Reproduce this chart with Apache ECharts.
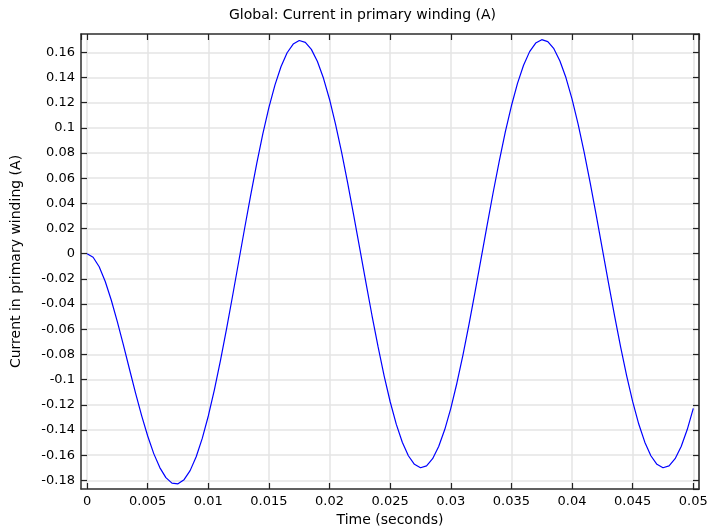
<!DOCTYPE html>
<html>
<head>
<meta charset="utf-8">
<script src="https://cdn.jsdelivr.net/npm/echarts@6/dist/echarts.min.js"></script>
<style>
  html, body { margin: 0; padding: 0; background: #fff; }
  #chart { width: 710px; height: 529px; }
</style>
</head>
<body>
<div id="chart"></div>
<script>
// time samples (s)
const times = [
  0, 0.0005, 0.001, 0.0015, 0.002, 0.0025, 0.003, 0.0035, 0.004, 0.0045,
  0.005, 0.0055, 0.006, 0.0065, 0.007, 0.0075, 0.008, 0.0085, 0.009, 0.0095,
  0.01, 0.0105, 0.011, 0.0115, 0.012, 0.0125, 0.013, 0.0135, 0.014, 0.0145,
  0.015, 0.0155, 0.016, 0.0165, 0.017, 0.0175, 0.018, 0.0185, 0.019, 0.0195,
  0.02, 0.0205, 0.021, 0.0215, 0.022, 0.0225, 0.023, 0.0235, 0.024, 0.0245,
  0.025, 0.0255, 0.026, 0.0265, 0.027, 0.0275, 0.028, 0.0285, 0.029, 0.0295,
  0.03, 0.0305, 0.031, 0.0315, 0.032, 0.0325, 0.033, 0.0335, 0.034, 0.0345,
  0.035, 0.0355, 0.036, 0.0365, 0.037, 0.0375, 0.038, 0.0385, 0.039, 0.0395,
  0.04, 0.0405, 0.041, 0.0415, 0.042, 0.0425, 0.043, 0.0435, 0.044, 0.0445,
  0.045, 0.0455, 0.046, 0.0465, 0.047, 0.0475, 0.048, 0.0485, 0.049, 0.0495,
  0.05
];

// current in primary winding (A)
const current = [
  0.0000, -0.0028, -0.0104, -0.0221, -0.0370, -0.0542, -0.0727, -0.0918, -0.1107, -0.1286,
  -0.1448, -0.1588, -0.1699, -0.1779, -0.1822, -0.1828, -0.1795, -0.1723, -0.1613, -0.1467,
  -0.1289, -0.1081, -0.0850, -0.0599, -0.0336, -0.0066, 0.0204, 0.0468, 0.0720, 0.0953,
  0.1162, 0.1341, 0.1487, 0.1596, 0.1665, 0.1693, 0.1679, 0.1623, 0.1527, 0.1393,
  0.1225, 0.1026, 0.0803, 0.0559, 0.0301, 0.0036, -0.0230, -0.0491, -0.0739, -0.0970,
  -0.1176, -0.1354, -0.1498, -0.1605, -0.1673, -0.1700, -0.1685, -0.1628, -0.1531, -0.1397,
  -0.1228, -0.1029, -0.0805, -0.0561, -0.0303, -0.0037, 0.0229, 0.0490, 0.0738, 0.0969,
  0.1175, 0.1353, 0.1497, 0.1605, 0.1673, 0.1700, 0.1685, 0.1628, 0.1531, 0.1397,
  0.1228, 0.1029, 0.0805, 0.0561, 0.0303, 0.0037, -0.0229, -0.0490, -0.0738, -0.0969,
  -0.1175, -0.1353, -0.1497, -0.1605, -0.1673, -0.1700, -0.1685, -0.1628, -0.1531, -0.1397,
  -0.1228
];

// axis extents
const xRange = [-0.0005, 0.05047];
const yRange = [-0.1869, 0.1745];

const chart = echarts.init(document.getElementById('chart'));

const seriesData = times.map(function (t, i) {
    return [t, current[i]];
});

const fontFamily = 'DejaVu Sans';
const gridLine = { show: true, lineStyle: { color: '#e4e4e4', width: 1.5 } };
const frameLine = { show: true, onZero: false, lineStyle: { color: '#333', width: 1.5 } };
const innerTick = { show: true, inside: true, length: 6, lineStyle: { color: '#222', width: 1.2 } };

const option = {
    animation: false,
    title: {
        text: 'Global: Current in primary winding (A)',
        left: 224,
        top: 3,
        textStyle: { fontFamily: fontFamily, fontSize: 14, fontWeight: 'normal', color: '#000' }
    },
    grid: { left: 81, top: 34, right: 11, bottom: 40, containLabel: false, outerBoundsMode: 'none' },
    xAxis: [
        {
            type: 'value',
            position: 'bottom',
            min: xRange[0],
            max: xRange[1],
            splitNumber: 10,
            name: 'Time (seconds)',
            nameLocation: 'middle',
            nameGap: 21,
            nameTextStyle: { fontFamily: fontFamily, fontSize: 14, color: '#000' },
            axisLine: frameLine,
            axisTick: innerTick,
            splitLine: gridLine,
            axisLabel: {
                showMinLabel: false,
                showMaxLabel: false,
                margin: 6,
                fontFamily: fontFamily,
                fontSize: 13,
                color: '#000',
                formatter: function (v) { return String(+v.toFixed(4)); }
            }
        },
        {
            type: 'value',
            position: 'top',
            min: xRange[0],
            max: xRange[1],
            splitNumber: 10,
            axisLine: frameLine,
            axisTick: innerTick,
            splitLine: { show: false },
            axisLabel: { show: false }
        }
    ],
    yAxis: [
        {
            type: 'value',
            position: 'left',
            min: yRange[0],
            max: yRange[1],
            splitNumber: 18,
            name: 'Current in primary winding (A)',
            nameLocation: 'middle',
            nameGap: 58,
            nameTextStyle: { fontFamily: fontFamily, fontSize: 14, color: '#000' },
            axisLine: frameLine,
            axisTick: innerTick,
            splitLine: gridLine,
            axisLabel: {
                showMinLabel: false,
                showMaxLabel: false,
                margin: 6,
                fontFamily: fontFamily,
                fontSize: 13,
                color: '#000',
                formatter: function (v) { return String(+v.toFixed(3)); }
            }
        },
        {
            type: 'value',
            position: 'right',
            min: yRange[0],
            max: yRange[1],
            splitNumber: 18,
            axisLine: { show: true, onZero: false, lineStyle: { color: '#555', width: 2 } },
            axisTick: innerTick,
            splitLine: { show: false },
            axisLabel: { show: false }
        }
    ],
    series: [
        {
            type: 'line',
            data: seriesData,
            showSymbol: false,
            smooth: false,
            lineStyle: { color: '#0000ff', width: 1.2 },
            xAxisIndex: 0,
            yAxisIndex: 0
        }
    ]
};

chart.setOption(option);
</script>
</body>
</html>
